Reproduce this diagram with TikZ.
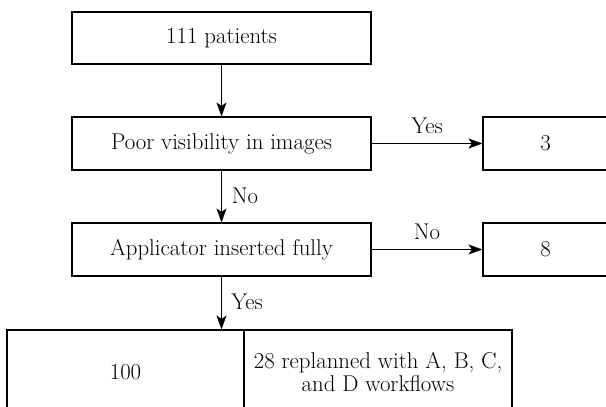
\documentclass[tikz,border=0pt]{standalone}
\usetikzlibrary{arrows.meta}
\begin{document}
\begin{tikzpicture}[x=1pt,y=-1pt,
  txt/.style={font=\fontsize{22.8}{23.5}\selectfont},
  box/.style={draw,line width=1.1pt,inner sep=0pt,txt,align=center},
  arr/.style={line width=1.1pt,-{Stealth[length=14pt,width=10pt,inset=3.5pt]}},
  lab/.style={txt,inner sep=0pt}]
\fill[white] (0,0) rectangle (606,407);
\clip (0,0) rectangle (606,407);
\node[box,minimum width=299pt,minimum height=52pt] (p) at (221.5,38) {111 patients};
\node[box,minimum width=299pt,minimum height=53pt] (v) at (221.5,143.5) {Poor visibility in images};
\node[box,minimum width=125pt,minimum height=53pt] (three) at (545.5,143.5) {3};
\node[box,minimum width=299pt,minimum height=53pt] (a) at (221.5,249.5) {Applicator inserted fully};
\node[box,minimum width=125pt,minimum height=53pt] (eight) at (545.5,249.5) {8};
\node[box,minimum width=237pt,minimum height=84pt] (h) at (125.5,372) {100};
\node[box,minimum width=268pt,minimum height=84pt] (r) at (378,372) {28 replanned with A, B, C,\\and D workflows};
\draw[arr] (p) -- (v);
\draw[arr] (v.east) -- (three.west);
\draw[arr] (v) -- (a);
\draw[arr] (a.east) -- (eight.west);
\draw[arr] (a.south) -- (a.south |- h.north);
\node[lab] (ly) at (427,126) {Yes};
\node[lab] (ln) at (245,196) {No};
\node[lab] (ln2) at (427,232) {No};
\node[lab] (ly2) at (247,302) {Yes};
\end{tikzpicture}
\end{document}
